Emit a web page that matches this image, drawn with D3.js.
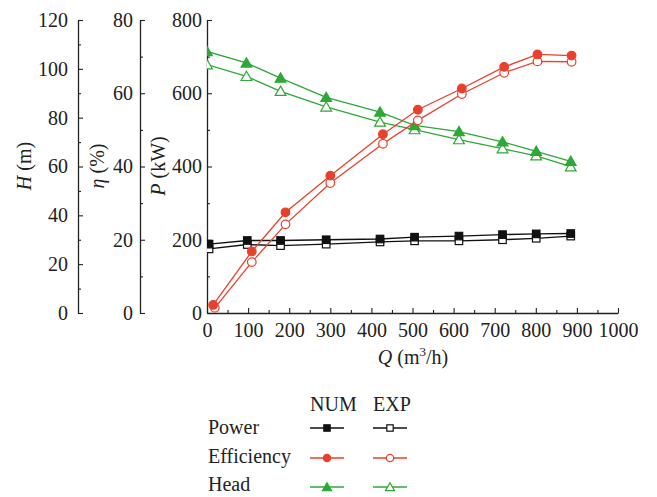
<!DOCTYPE html>
<html>
<head>
<meta charset="utf-8">
<script src="https://cdn.jsdelivr.net/npm/d3@7"></script>
<style>
  html, body { margin: 0; padding: 0; background: #fff; }
  svg { display: block; }
  text { font-family: "Liberation Serif", "DejaVu Serif", serif; fill: #222; }
</style>
</head>
<body>
<svg id="chart" width="657" height="497"></svg>
<script>
// Pump performance: flow rate Q (m3/h) vs power, efficiency and head
const powerNumQ = [5, 98, 179, 290, 421, 505, 613, 719, 801, 885];
const powerNum  = [188, 198, 198, 200, 202, 207, 210, 214, 216, 217];
const powerExpQ = [5, 98, 179, 290, 421, 505, 613, 719, 801, 885];
const powerExp  = [175, 187, 184, 188, 194, 197, 197, 200, 204, 210];

const effNumQ = [15, 109, 191, 300, 428, 513, 620, 723, 804, 887];
const effNum  = [2.2, 16.8, 27.5, 37.5, 48.8, 55.5, 61.3, 67.2, 70.6, 70.3];
const effExpQ = [19, 109, 191, 300, 428, 513, 620, 723, 804, 887];
const effExp  = [1.4, 13.9, 24.2, 35.5, 46.2, 52.6, 59.8, 65.6, 68.7, 68.6];

const headNumQ = [0, 96, 179, 290, 421, 505, 613, 719, 801, 885];
const headNum  = [107.1, 102.4, 96.2, 88.3, 82.3, 76.8, 74.3, 70.1, 66.2, 62.1];
const headExpQ = [0, 96, 179, 290, 421, 505, 613, 719, 801, 885];
const headExp  = [101.7, 96.9, 90.8, 84.4, 78.2, 75.1, 71.0, 67.3, 64.4, 59.9];

const qTicks = [0, 100, 200, 300, 400, 500, 600, 700, 800, 900, 1000];
const pTicks = [0, 200, 400, 600, 800];
const eTicks = [0, 20, 40, 60, 80];
const hTicks = [0, 20, 40, 60, 80, 100, 120];

const legendRows = ["Power", "Efficiency", "Head"];
const legendCols = ["NUM", "EXP"];

const RED = "#e8402d", GREEN = "#2ea836", BLACK = "#111";
const FS = "20px";

const svg = d3.select("#chart");
const plotTop = 20, plotBottom = 313;
const x = d3.scaleLinear().domain([0, 1000]).range([207, 618]);
const yP = d3.scaleLinear().domain([0, 800]).range([plotBottom, plotTop]);
const yE = d3.scaleLinear().domain([0, 80]).range([plotBottom, plotTop]);
const yH = d3.scaleLinear().domain([0, 120]).range([plotBottom, plotTop]);

const fmt = d3.format("d");

function styleAxis(g) {
  g.selectAll("path.domain").attr("stroke", "#222").attr("stroke-width", 1.3);
  g.selectAll(".tick line").attr("stroke", "#222").attr("stroke-width", 1.1);
  g.selectAll(".tick text").style("font-size", FS).attr("fill", "#222");
}
function mids(t) {
  const m = [];
  for (let i = 0; i < t.length - 1; i++) m.push((t[i] + t[i + 1]) / 2);
  return m;
}

// vertical axes with inward ticks and labels on the left
[[yH, hTicks, 78, 10], [yE, eTicks, 140, 7], [yP, pTicks, 207, 5]].forEach(([s, t, px, pad]) => {
  const g = svg.append("g").attr("transform", `translate(${px},0)`)
    .call(d3.axisLeft(s).tickValues(t).tickFormat(fmt).tickSizeInner(-5).tickSizeOuter(0).tickPadding(pad));
  styleAxis(g);
  const gm = svg.append("g").attr("transform", `translate(${px},0)`)
    .call(d3.axisLeft(s).tickValues(mids(t)).tickSizeInner(-3).tickSizeOuter(0).tickFormat(""));
  gm.select("path.domain").remove();
  styleAxis(gm);
});

// horizontal axis
const gx = svg.append("g").attr("transform", `translate(0,${plotBottom})`)
  .call(d3.axisBottom(x).tickValues(qTicks).tickFormat(fmt).tickSizeInner(-5).tickSizeOuter(0).tickPadding(10));
styleAxis(gx);
const gxm = svg.append("g").attr("transform", `translate(0,${plotBottom})`)
  .call(d3.axisBottom(x).tickValues(mids(qTicks)).tickSizeInner(-3).tickSizeOuter(0).tickFormat(""));
gxm.select("path.domain").remove();
styleAxis(gxm);

// axis titles
function yTitle(cx, italic, rest) {
  const t = svg.append("text")
    .attr("transform", `translate(${cx},166) rotate(-90)`)
    .attr("text-anchor", "middle").style("font-size", FS);
  t.append("tspan").style("font-style", "italic").text(italic);
  t.append("tspan").text(rest);
}
yTitle(31, "H", " (m)");
yTitle(104, "η", " (%)");
yTitle(165, "P", " (kW)");

const xt = svg.append("text").attr("x", 413).attr("y", 364)
  .attr("text-anchor", "middle").style("font-size", FS);
xt.append("tspan").style("font-style", "italic").text("Q");
xt.append("tspan").text(" (m");
xt.append("tspan").attr("dy", -8).style("font-size", "13px").text("3");
xt.append("tspan").attr("dy", 8).text("/h)");

// plot area clip so markers sitting on the axis are cut at it
svg.append("defs").append("clipPath").attr("id", "plotClip")
  .append("rect").attr("x", 207).attr("y", 0).attr("width", 440).attr("height", plotBottom + 1);
const plot = svg.append("g").attr("clip-path", "url(#plotClip)");

function drawMarker(g, kind, filled, color, cx, cy, k) {
  const sc = k || 1;
  if (kind === "square") {
    const s = 7.5 * sc;
    g.append("rect").attr("x", cx - s / 2).attr("y", cy - s / 2).attr("width", s).attr("height", s)
      .attr("fill", filled ? color : "#fff").attr("stroke", color).attr("stroke-width", 1.2);
  } else if (kind === "circle") {
    g.append("circle").attr("cx", cx).attr("cy", cy).attr("r", 4.3 * sc)
      .attr("fill", filled ? color : "#fff").attr("stroke", color).attr("stroke-width", 1.2);
  } else {
    const tri = d3.symbol().type(d3.symbolTriangle).size(50 * sc * sc);
    g.append("path").attr("d", tri).attr("transform", `translate(${cx},${cy + 1})`)
      .attr("fill", filled ? color : "#fff").attr("stroke", color).attr("stroke-width", 1.2);
  }
}

function series(qs, vs, yScale, color, kind, filled) {
  const pts = qs.map((q, i) => [x(q), yScale(vs[i])]);
  plot.append("path").attr("d", d3.line()(pts))
    .attr("fill", "none").attr("stroke", color).attr("stroke-width", 1.3);
  pts.forEach(([px, py]) => drawMarker(plot, kind, filled, color, px, py));
}

series(powerExpQ, powerExp, yP, BLACK, "square", false);
series(powerNumQ, powerNum, yP, BLACK, "square", true);
series(headExpQ, headExp, yH, GREEN, "triangle", false);
series(headNumQ, headNum, yH, GREEN, "triangle", true);
series(effExpQ, effExp, yE, RED, "circle", false);
series(effNumQ, effNum, yE, RED, "circle", true);

// legend
const leg = svg.append("g");
const colX = [310, 373];
legendCols.forEach((c, i) => leg.append("text").attr("x", colX[i]).attr("y", 411)
  .style("font-size", FS).text(c));
const rowBase = [434, 463, 491];
const rowSym = [428, 458, 487];
const rowStyle = [[BLACK, "square"], [RED, "circle"], [GREEN, "triangle"]];
legendRows.forEach((r, i) => {
  leg.append("text").attr("x", 208).attr("y", rowBase[i]).style("font-size", FS).text(r);
  colX.forEach((cx, j) => {
    const [color, kind] = rowStyle[i];
    leg.append("line").attr("x1", cx).attr("x2", cx + 34).attr("y1", rowSym[i]).attr("y2", rowSym[i])
      .attr("stroke", color).attr("stroke-width", 1.3);
    drawMarker(leg, kind, j === 0, color, cx + 17, rowSym[i], 0.85);
  });
});
</script>
</body>
</html>
